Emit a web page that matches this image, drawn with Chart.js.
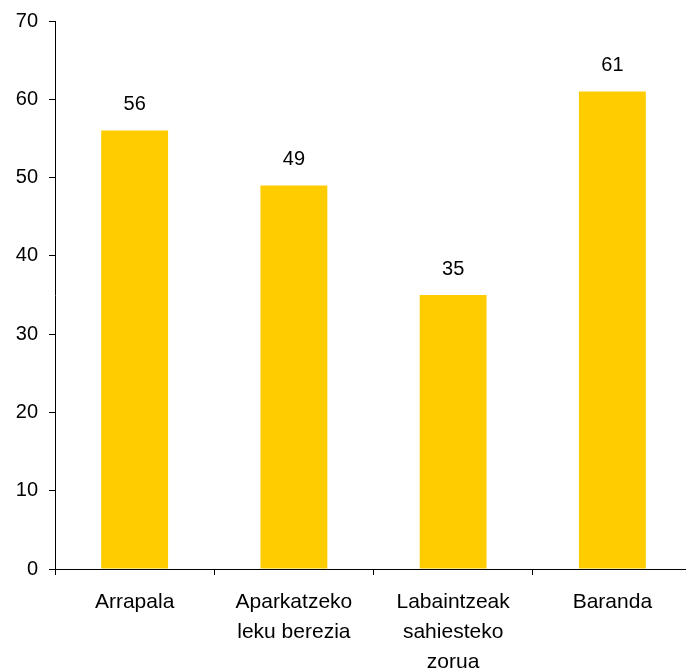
<!DOCTYPE html>
<html>
<head>
<meta charset="utf-8">
<script src="https://cdn.jsdelivr.net/npm/chart.js@4"></script>
<style>
  html, body { margin: 0; padding: 0; background: #fff; overflow: hidden; }
  #wrap { width: 692px; height: 671px; }
</style>
</head>
<body>
<div id="wrap"><canvas id="chart"></canvas></div>
<script>
const categories = [['Arrapala'], ['Aparkatzeko', 'leku berezia'], ['Labaintzeak', 'sahiesteko', 'zorua'], ['Baranda']];
const values = [56, 49, 35, 61];
const yTicks = [0, 10, 20, 30, 40, 50, 60, 70];

const family = '"Liberation Sans", Arial, sans-serif';

// value labels above each bar
const valueLabels = {
  id: 'valueLabels',
  afterDatasetsDraw(chart) {
    const ctx = chart.ctx;
    ctx.save();
    ctx.fillStyle = '#000';
    ctx.font = `20px ${family}`;
    ctx.textAlign = 'center';
    ctx.textBaseline = 'middle';
    chart.getDatasetMeta(0).data.forEach((bar, i) => {
      ctx.fillText(values[i], bar.x, bar.y - 26);
    });
    ctx.restore();
  }
};

new Chart(document.getElementById('chart'), {
  type: 'bar',
  data: {
    labels: categories,
    datasets: [{
      data: values,
      backgroundColor: '#FFCC00',
      barPercentage: 0.42,
      categoryPercentage: 1
    }]
  },
  options: {
    responsive: true,
    maintainAspectRatio: false,
    animation: false,
    layout: { padding: { top: 21, right: 0, left: 0, bottom: 0 } },
    plugins: { legend: { display: false }, tooltip: { enabled: false } },
    scales: {
      x: {
        offset: true,
        grid: { display: true, offset: true, drawOnChartArea: false, drawTicks: true, tickLength: 6, color: '#000' },
        border: { display: true, color: '#000', width: 1 },
        ticks: { color: '#000', font: { family, size: 21, lineHeight: 1.43 }, padding: 12, maxRotation: 0, autoSkip: false },
        afterFit(axis) { axis.height = 102; }
      },
      y: {
        min: 0,
        max: 70,
        afterBuildTicks(axis) { axis.ticks = yTicks.map(v => ({ value: v })); },
        grid: { display: true, drawOnChartArea: false, drawTicks: true, tickLength: 6, color: '#000' },
        border: { display: true, color: '#000', width: 1 },
        ticks: { color: '#000', font: { family, size: 20, lineHeight: 1 }, padding: 11 },
        afterFit(axis) { axis.width = 55; }
      }
    }
  },
  plugins: [valueLabels]
});
</script>
</body>
</html>
